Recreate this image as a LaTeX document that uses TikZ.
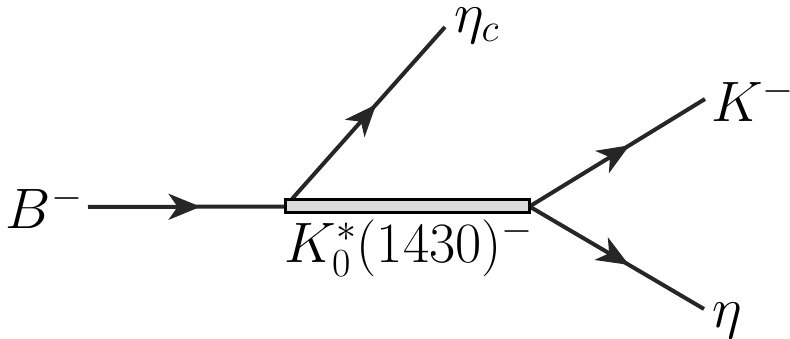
\RequirePackage{fix-cm}
\documentclass[tikz,border=0pt]{standalone}
\usetikzlibrary{arrows.meta,decorations.markings}
\begin{document}
\begin{tikzpicture}[x=1pt,y=-1pt,
  lbl/.style={font=\fontsize{57}{61}\selectfont, inner sep=0pt},
  prop/.style={line width=4pt, black!85,
    postaction={decorate, decoration={markings,
      mark=at position #1 with {\arrow{Stealth[length=32pt,width=26pt,inset=9pt]}}}}},
  reso/.style={draw=black, line width=3pt, fill=black!14, minimum width=244pt,
    minimum height=13pt, inner sep=0pt, outer sep=0pt}]
\useasboundingbox (0,0) rectangle (790,339);
% labels
\node[lbl, anchor=east] (B) at (83,207) {$B^-$};
\node[lbl, anchor=west] (etac) at (454,26) {$\eta_c$};
\node[lbl, anchor=west] (K) at (711,100) {$K^-$};
\node[lbl, anchor=west] (eta) at (712,321) {$\eta$};
% resonance
\node[reso] (R) at (407.5,206.5) {};
\node[lbl, anchor=base] (Rl) at (409,262) {$K_0^*(1430)^-$};
% endpoints
\coordinate (b0) at (88,207);
\coordinate (etacend) at (445,27);
\coordinate (Kend) at (705,99);
\coordinate (etaend) at (704,309);
\coordinate (etacstart) at (292,199);
% lines
\draw[prop=0.57] (b0) -- (R.west);
\draw[prop=0.55] (etacstart) -- (etacend);
\draw[prop=0.57] (R.east) -- (Kend);
\draw[prop=0.57] (R.east) -- (etaend);
\node[reso] at (R) {};
\end{tikzpicture}
\end{document}
